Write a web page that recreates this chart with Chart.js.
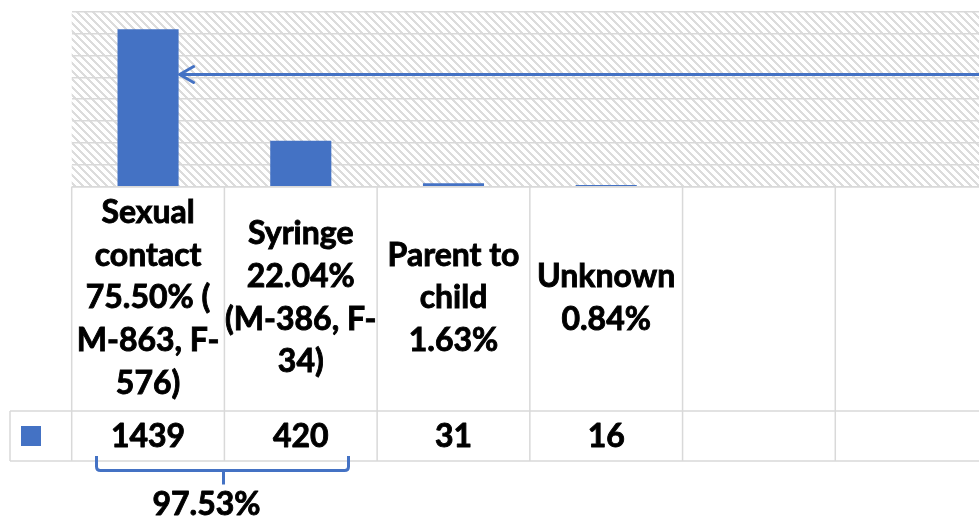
<!DOCTYPE html>
<html>
<head>
<meta charset="utf-8">
<script src="https://cdn.jsdelivr.net/npm/chart.js@4/dist/chart.umd.min.js"></script>
<style>
  html, body { margin: 0; padding: 0; background: #fff; overflow: hidden; width: 979px; height: 516px; }
  #wrap { width: 1000px; height: 516px; }
</style>
</head>
<body>
<div id="wrap"><canvas id="c" width="1000" height="516"></canvas></div>
<script>
// ---- data ----
const categories = [
  ["Sexual", "contact", "75.50% (", "M-863, F-", "576)"],
  ["Syringe", "22.04%", "(M-386, F-", "34)"],
  ["Parent to", "child", "1.63%"],
  ["Unknown", "0.84%"],
  "",
  ""
];
const cases = [1439, 420, 31, 16, null, null];
const yTickMax = 1600;
const yTickStep = 200;
const arrowLevel = 1028;           // value level where the arrow points into the first bar
const bracedCategories = [0, 1];   // categories grouped by the brace

const BLUE = '#4472C4';
const GRID = '#d9d9d9';
const FONT = 'Lato, "Open Sans", sans-serif';
const STROKE = 0.9;

function makeHatch() {
  const c = document.createElement('canvas');
  c.width = 8; c.height = 8;
  const g = c.getContext('2d');
  g.fillStyle = '#ffffff'; g.fillRect(0, 0, 8, 8);
  g.fillStyle = '#dcdcdc';
  for (let y = 0; y < 8; y++) for (let k = 0; k < 3; k++) g.fillRect((y + k) % 8, y, 1, 1);
  return c;
}

const tablePlugin = {
  id: 'tablePlugin',
  beforeDraw(chart) {
    const { ctx, chartArea: a } = chart;
    ctx.save();
    ctx.fillStyle = ctx.createPattern(makeHatch(), 'repeat');
    ctx.fillRect(a.left, a.top, a.right - a.left, a.bottom - a.top);
    // table grid
    const xs = chart.scales.x;
    const half = (xs.getPixelForValue(1) - xs.getPixelForValue(0)) / 2;
    const rowTop = 411, rowBot = 461, legendLeft = 10;
    ctx.strokeStyle = GRID;
    ctx.lineWidth = 1.5;
    ctx.beginPath();
    ctx.moveTo(a.left, a.bottom); ctx.lineTo(chart.width, a.bottom);
    ctx.moveTo(legendLeft, rowTop); ctx.lineTo(chart.width, rowTop);
    ctx.moveTo(legendLeft, rowBot); ctx.lineTo(chart.width, rowBot);
    ctx.moveTo(legendLeft, rowTop); ctx.lineTo(legendLeft, rowBot);
    for (let i = 0; i <= categories.length; i++) {
      const x = xs.getPixelForValue(0) - half + i * 2 * half;
      ctx.moveTo(x, a.bottom); ctx.lineTo(x, rowBot);
    }
    ctx.stroke();
    ctx.restore();
  },
  afterDraw(chart) {
    const { ctx } = chart;
    const xs = chart.scales.x, ys = chart.scales.y;
    ctx.save();
    // legend key
    ctx.fillStyle = BLUE;
    ctx.fillRect(21, 426, 20, 20);
    // values row
    ctx.fillStyle = '#000';
    ctx.strokeStyle = '#000';
    ctx.lineWidth = STROKE;
    ctx.lineJoin = 'round';
    ctx.font = 'bold 32px ' + FONT;
    ctx.textAlign = 'center';
    ctx.textBaseline = 'middle';
    cases.forEach((v, i) => {
      if (v !== null) {
        const x = xs.getPixelForValue(i);
        ctx.fillText(String(v), x, 437);
        ctx.strokeText(String(v), x, 437);
      }
    });
    // arrow into the first bar
    const bar = chart.getDatasetMeta(0).data[0];
    const tipX = bar.x + bar.width / 2;
    const ay = Math.round(ys.getPixelForValue(arrowLevel)) + 0.5;
    ctx.strokeStyle = BLUE;
    ctx.lineWidth = 3;
    ctx.lineCap = 'round';
    ctx.lineJoin = 'round';
    ctx.beginPath();
    ctx.moveTo(chart.width, ay); ctx.lineTo(tipX + 1, ay);
    ctx.moveTo(tipX + 15, ay - 8); ctx.lineTo(tipX + 1, ay); ctx.lineTo(tipX + 15, ay + 8);
    ctx.stroke();
    // brace
    const L = Math.round(xs.getPixelForValue(bracedCategories[0]) - 52) + 0.5;
    const R = Math.round(xs.getPixelForValue(bracedCategories[1]) + 47.5) + 0.5;
    const M = Math.round((L + R) / 2) + 0.5;
    const t = 456, b = 470.5, r = 4;
    ctx.lineWidth = 3;
    ctx.lineCap = 'butt';
    ctx.beginPath();
    ctx.moveTo(L, t); ctx.lineTo(L, b - r); ctx.quadraticCurveTo(L, b, L + r, b);
    ctx.lineTo(R - r, b); ctx.quadraticCurveTo(R, b, R, b - r); ctx.lineTo(R, t);
    ctx.moveTo(M, b); ctx.lineTo(M, b + 14);
    ctx.stroke();
    const total = cases.reduce((s, v) => s + (v || 0), 0);
    const share = bracedCategories.reduce((s, i) => s + cases[i], 0) / total * 100;
    const txt = share.toFixed(2) + '%';
    ctx.fillStyle = '#000';
    ctx.strokeStyle = '#000';
    ctx.lineWidth = STROKE;
    ctx.fillText(txt, M - 17, 505);
    ctx.strokeText(txt, M - 17, 505);
    ctx.restore();
  }
};

function build() {
  new Chart(document.getElementById('c'), {
    type: 'bar',
    data: {
      labels: categories,
      datasets: [{
        data: cases,
        backgroundColor: BLUE,
        borderWidth: 0,
        barPercentage: 0.4,
        categoryPercentage: 1.0
      }]
    },
    options: {
      responsive: false,
      animation: false,
      devicePixelRatio: 1,
      layout: { padding: { top: 11.7, left: 71.7, right: 12, bottom: 0 } },
      plugins: { legend: { display: false }, tooltip: { enabled: false } },
      scales: {
        x: {
          grid: { display: false, drawTicks: false },
          border: { display: false },
          ticks: {
            color: '#000',
            textStrokeColor: '#000',
            textStrokeWidth: STROKE,
            font: { family: FONT, weight: 'bold', size: 32, lineHeight: 1.334 },
            padding: 26,
            crossAlign: 'center',
            maxRotation: 0,
            minRotation: 0,
            autoSkip: false
          },
          afterFit(s) { s.height = 516 - 186.7; }
        },
        y: {
          min: 0,
          max: yTickMax,
          ticks: { stepSize: yTickStep, display: false },
          grid: { color: GRID, lineWidth: 1.5, drawTicks: false },
          border: { display: false },
          afterFit(s) { s.width = 0; }
        }
      }
    },
    plugins: [tablePlugin]
  });
}

if (document.fonts && document.fonts.load) {
  document.fonts.load('bold 32px Lato').then(build, build);
} else {
  build();
}
</script>
</body>
</html>
